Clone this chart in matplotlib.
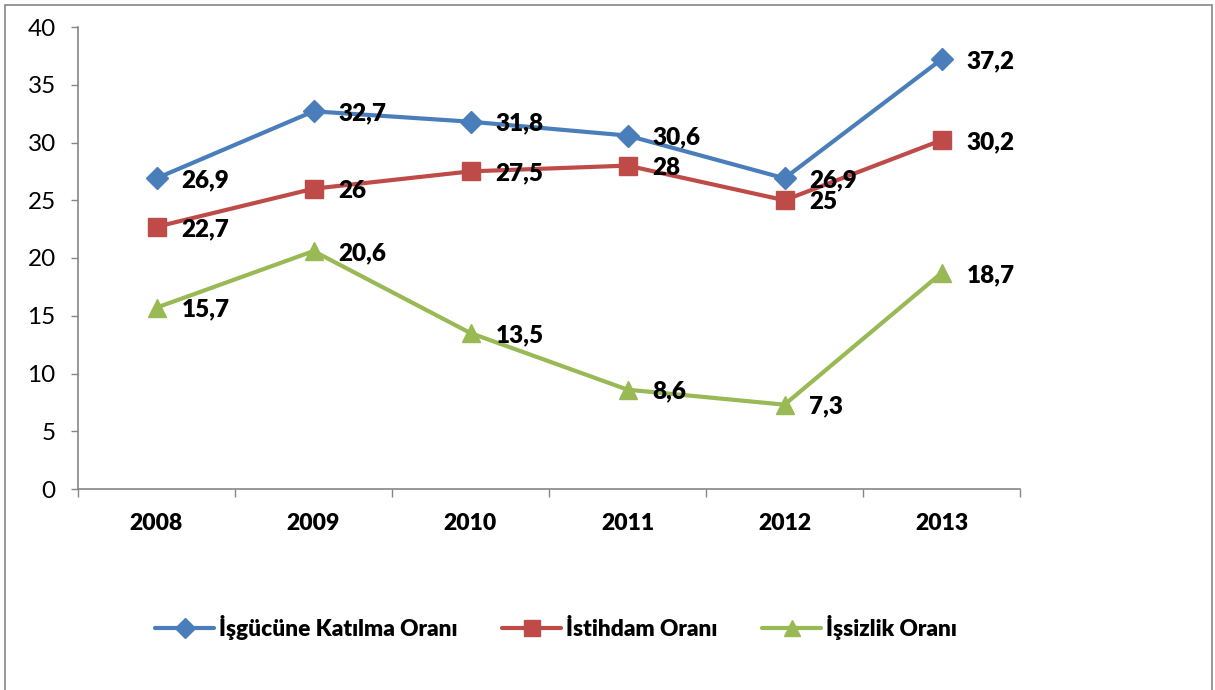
import matplotlib
matplotlib.use("Agg")
import matplotlib.pyplot as plt
from matplotlib.patches import Rectangle

plt.rcParams['font.family'] = ['Lato', 'DejaVu Sans']

years = ['2008', '2009', '2010', '2011', '2012', '2013']
isgucu = [26.9, 32.7, 31.8, 30.6, 26.9, 37.2]
istihdam = [22.7, 26, 27.5, 28, 25, 30.2]
issizlik = [15.7, 20.6, 13.5, 8.6, 7.3, 18.7]

series_names = ['İşgücüne Katılma Oranı', 'İstihdam Oranı', 'İşsizlik Oranı']
series_colors = ['#4A7EBB', '#BE4B48', '#98B954']
series_markers = ['D', 's', '^']
marker_sizes = [11.5, 13, 13.5]

gray = '#868686'

fig = plt.figure(figsize=(12.15, 6.9), dpi=100)
W, H = 1215, 690
ax = fig.add_axes([78 / W, 1 - 489 / H, (1020 - 78) / W, (489 - 27) / H])

x = list(range(len(years)))
for vals, name, col, mk, ms in zip([isgucu, istihdam, issizlik], series_names,
                                   series_colors, series_markers, marker_sizes):
    ax.plot(x, vals, color=col, lw=3, marker=mk, ms=ms, label=name,
            solid_capstyle='round', clip_on=False)
    for xi, v in zip(x, vals):
        ax.annotate(f"{v:g}".replace('.', ','), (xi, v), xytext=(18, -1.5),
                    textcoords='offset points', ha='left', va='center',
                    fontsize=17.5, fontweight='heavy', color='black')

ax.set_xlim(-0.5, len(years) - 0.5)
ax.set_ylim(0, 40)
ax.set_yticks(range(0, 41, 5))
ax.tick_params(axis='y', direction='out', length=5, width=1, color=gray,
               labelsize=17.5, pad=11)

# category boundaries as major ticks, labels centred on minor ticks
ax.set_xticks([i - 0.5 for i in range(len(years) + 1)])
ax.set_xticklabels([])
ax.set_xticks(x, minor=True)
ax.set_xticklabels(years, minor=True, fontsize=16.5, fontweight='heavy')
ax.tick_params(axis='x', which='major', direction='out', length=6, width=1, color=gray)
ax.tick_params(axis='x', which='minor', length=0, pad=17)

for s in ['top', 'right']:
    ax.spines[s].set_visible(False)
for s in ['left', 'bottom']:
    ax.spines[s].set_color(gray)
    ax.spines[s].set_linewidth(1.2)

leg = fig.legend(loc='center', bbox_to_anchor=(556 / W, 1 - 627 / H), ncol=3,
                 frameon=False, handlelength=2.6, handletextpad=0.2,
                 columnspacing=2.0, markerscale=0.85,
                 prop={'size': 16.3, 'weight': 'heavy'})

fig.patches.append(Rectangle((5 / W, -0.05), (1212 - 5) / W, (H - 5) / H + 0.05,
                             transform=fig.transFigure, fill=False,
                             edgecolor=gray, lw=1.2))

fig.savefig('out.png', dpi=100)
